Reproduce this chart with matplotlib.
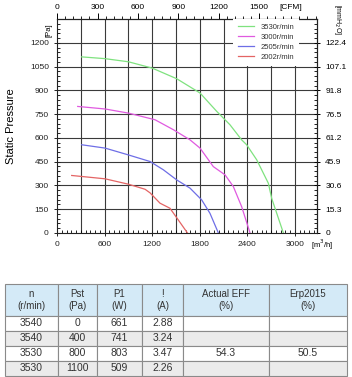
import matplotlib
matplotlib.use("Agg")
import matplotlib.pyplot as plt
from matplotlib.ticker import MultipleLocator, FixedLocator

plt.rcParams['font.family'] = ['Liberation Sans', 'DejaVu Sans']

# fan curves: airflow [m3/h] vs static pressure [Pa]
q_3530 = [309, 600, 900, 1200, 1509, 1803, 2014, 2182, 2329, 2392, 2519, 2666, 2708, 2855]
p_3530 = [1111, 1100, 1080, 1040, 973, 883, 767, 682, 587, 556, 461, 313, 218, 0]
q_3000 = [259, 604, 898, 1235, 1467, 1677, 1803, 1971, 2119, 2224, 2329, 2434]
p_3000 = [798, 782, 756, 714, 651, 587, 535, 418, 366, 292, 165, 0]
q_2505 = [309, 604, 898, 1173, 1340, 1509, 1677, 1824, 1929, 2034]
p_2505 = [556, 535, 492, 450, 398, 334, 282, 208, 123, 0]
q_2002 = [183, 604, 898, 1109, 1173, 1298, 1424, 1529, 1643]
p_2002 = [362, 341, 307, 275, 252, 187, 155, 81, 0]

curves = [
    ('3530r/min', q_3530, p_3530, '#7fe27f'),
    ('3000r/min', q_3000, p_3000, '#e05ae0'),
    ('2505r/min', q_2505, p_2505, '#6e6ee6'),
    ('2002r/min', q_2002, p_2002, '#e46464'),
]

x_ticks = [0, 600, 1200, 1800, 2400, 3000]
y_ticks = [0, 150, 300, 450, 600, 750, 900, 1050, 1200]
cfm_ticks = [0, 300, 600, 900, 1200, 1500]

# performance table
col_labels = ['n\n(r/min)', 'Pst\n(Pa)', 'P1\n(W)', '!\n(A)', 'Actual EFF\n(%)', 'Erp2015\n(%)']
speed = ['3540', '3540', '3530', '3530']
pst = ['0', '400', '800', '1100']
p1 = ['661', '741', '803', '509']
current = ['2.88', '3.24', '3.47', '2.26']
eff = ['', '', '54.3', '']
erp = ['', '', '50.5', '']

fig = plt.figure(figsize=(3.52, 3.77), dpi=100)
ax = fig.add_axes([0.1625, 0.3825, 0.738, 0.567])

for label, q, p, c in curves:
    ax.plot(q, p, color=c, lw=0.9, label=label)

ax.set_xlim(0, 3280)
ax.set_ylim(0, 1350)
ax.xaxis.set_major_locator(FixedLocator(x_ticks))
ax.yaxis.set_major_locator(FixedLocator(y_ticks))
ax.xaxis.set_minor_locator(MultipleLocator(60))
ax.yaxis.set_minor_locator(MultipleLocator(30))
for v in range(300, 3001, 300):
    ax.axvline(v, color='#3a3a3a', lw=0.8, zorder=0)
for v in y_ticks[1:]:
    ax.axhline(v, color='#3a3a3a', lw=0.8, zorder=0)

ax.tick_params(which='major', direction='inout', length=5, width=0.7, labelsize=6, colors='#222')
ax.tick_params(which='minor', direction='in', length=2.5, width=0.6)
for s in ax.spines.values():
    s.set_color('#222')
    s.set_linewidth(0.8)

ax.set_ylabel('Static Pressure', fontsize=8, labelpad=10)
ax.text(-0.02, 0.95, '[Pa]', transform=ax.transAxes, rotation=90, fontsize=5.5,
        ha='right', va='center')
ax.text(1.02, -0.055, '[m$^3$/h]', transform=ax.transAxes, fontsize=5.5, ha='center', va='center')

top = ax.secondary_xaxis('top', functions=(lambda x: x / 1.699, lambda x: x * 1.699))
top.xaxis.set_major_locator(FixedLocator(cfm_ticks))
top.xaxis.set_minor_locator(MultipleLocator(60))
top.tick_params(which='major', direction='out', length=4, width=0.7, labelsize=6, pad=1.5)
top.tick_params(which='minor', direction='out', length=2, width=0.6)
ax.text(0.9, 1.055, '[CFM]', transform=ax.transAxes, fontsize=6, ha='center', va='center')

right = ax.secondary_yaxis('right', functions=(lambda y: y / 9.80665, lambda y: y * 9.80665))
right.yaxis.set_major_locator(FixedLocator([v / 9.80665 for v in y_ticks]))
right.set_yticklabels(['0'] + ['%.1f' % (v / 9.80665) for v in y_ticks[1:]])
right.yaxis.set_minor_locator(FixedLocator([v / 9.80665 for v in range(0, 1351, 30)]))
right.tick_params(which='major', direction='inout', length=5, width=0.7, labelsize=6)
right.tick_params(which='minor', direction='in', length=2.5, width=0.6)
ax.text(1.08, 1.0, '[mmH$_2$O]', transform=ax.transAxes, rotation=270, fontsize=5,
        ha='center', va='center')

leg = ax.legend(loc='upper left', bbox_to_anchor=(0.677, 1.0), borderaxespad=0,
                fontsize=5.5, frameon=True, fancybox=False, framealpha=1,
                handlelength=2.2, labelspacing=0.35, borderpad=0.6, handletextpad=0.8)
leg.get_frame().set_edgecolor('none')
leg.get_frame().set_facecolor('white')
for t in leg.get_texts():
    t.set_color('#333')

# table
tax = fig.add_axes([0.0142, 0.003, 0.9716, 0.244])
tax.axis('off')
rows = list(zip(speed, pst, p1, current, eff, erp))
widths = [53, 39, 45, 41, 86, 78]
tot = sum(widths)
tbl = tax.table(cellText=rows, colLabels=col_labels, colWidths=[w / tot for w in widths],
                cellLoc='center', bbox=[0, 0, 1, 1])
tbl.auto_set_font_size(False)
row_colors = ['white', '#ebebeb', 'white', '#ebebeb']
for (r, c), cell in tbl.get_celld().items():
    cell.set_edgecolor('#8a8a8a')
    cell.set_linewidth(0.8)
    cell.get_text().set_color('#333')
    if r == 0:
        cell.set_height(32)
        cell.set_facecolor('#d4eaf7')
        cell.get_text().set_fontsize(7)
    else:
        cell.set_height(15)
        cell.set_facecolor(row_colors[r - 1])
        cell.get_text().set_fontsize(7.5)

fig.savefig('out.png', dpi=100)
